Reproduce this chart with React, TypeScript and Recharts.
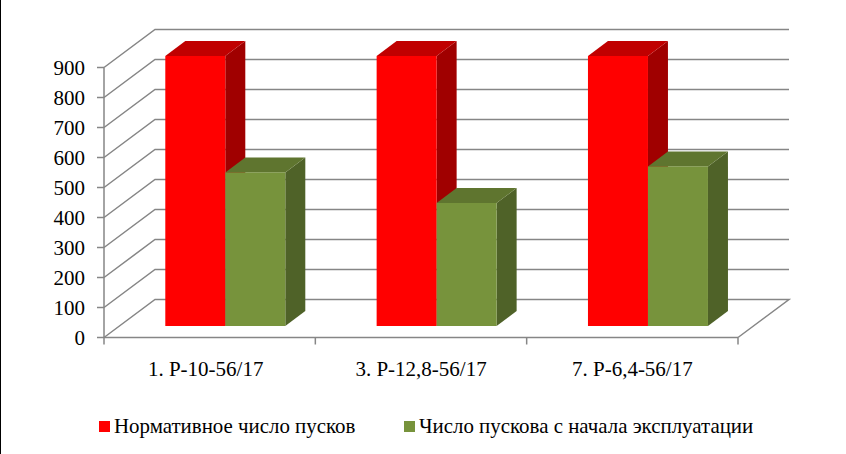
import { Bar, BarChart, CartesianGrid, Legend, XAxis, YAxis } from "recharts";

const CATEGORIES = ["1. Р-10-56/17", "3. Р-12,8-56/17", "7. Р-6,4-56/17"];
const NORM_STARTS = [900, 900, 900];
const ACTUAL_STARTS = [512, 410, 532];
const Y_TICKS = [0, 100, 200, 300, 400, 500, 600, 700, 800, 900];

const NORM_NAME = "Нормативное число пусков";
const ACTUAL_NAME = "Число пускова с начала эксплуатации";

const rows = CATEGORIES.map((name, i) => ({
  name,
  norm: NORM_STARTS[i],
  actual: ACTUAL_STARTS[i],
}));

const FONT = "'Liberation Serif', serif";
const AXIS_GREY = "#868686";
const LEFT = 104;
const RIGHT = 738;
const TOP = 67.5;
const BOTTOM = 337.5;
const BAND = (RIGHT - LEFT) / CATEGORIES.length;

// 3d depth of the chart box, and how far the bars sit inside it
const WALL_DX = 51;
const WALL_DY = -38;
const BAR_DX = 15.3;
const BAR_DY = -11.5;
const BAR_DEPTH_X = 20;
const BAR_DEPTH_Y = -15;

function Box3D(props: any) {
  const { x, y, width, height, fill, topFill, sideFill } = props;
  const left = x + BAR_DX;
  const right = left + width;
  const top = y + BAR_DY;
  const bottom = top + height;
  const dx = BAR_DEPTH_X;
  const dy = BAR_DEPTH_Y;
  return (
    <g>
      <polygon
        points={`${right},${top} ${right + dx},${top + dy} ${right + dx},${bottom + dy} ${right},${bottom}`}
        fill={sideFill}
      />
      <polygon
        points={`${left},${top} ${left + dx},${top + dy} ${right + dx},${top + dy} ${right},${top}`}
        fill={topFill}
      />
      <rect x={left} y={top} width={width} height={height} fill={fill} />
    </g>
  );
}

function WallLine(props: any) {
  const { x1, x2, y1 } = props;
  const isFloor = Math.abs(y1 - BOTTOM) < 1;
  const backY = y1 + WALL_DY;
  const points = [
    `${x1},${y1}`,
    `${x1 + WALL_DX},${backY}`,
    `${x2 + WALL_DX},${backY}`,
  ];
  if (isFloor) points.push(`${x2},${y1}`);
  return (
    <polyline
      key={`wall-${y1}`}
      points={points.join(" ")}
      fill="none"
      stroke={AXIS_GREY}
      strokeWidth={1.5}
    />
  );
}

function CategoryTick(props: any) {
  const { x, index, payload } = props;
  const start = x - BAND / 2;
  return (
    <g>
      <line x1={start} y1={BOTTOM} x2={start} y2={BOTTOM + 7} stroke={AXIS_GREY} strokeWidth={1.5} />
      {index === CATEGORIES.length - 1 && (
        <line x1={start + BAND} y1={BOTTOM} x2={start + BAND} y2={BOTTOM + 7} stroke={AXIS_GREY} strokeWidth={1.5} />
      )}
      <text x={index === 0 ? x - 4 : x} y={BOTTOM + 38} textAnchor="middle" fontFamily={FONT} fontSize={21} fill="#000">
        {payload.value}
      </text>
    </g>
  );
}

function ChartLegend() {
  const item = (color: string, label: string, left: number) => (
    <div style={{ position: "absolute", left, top: 0, display: "flex", alignItems: "center", whiteSpace: "nowrap" }}>
      <span style={{ width: 11, height: 11, background: color, marginRight: 4 }} />
      <span>{label}</span>
    </div>
  );
  return (
    <div style={{ position: "relative", height: 24, fontFamily: FONT, fontSize: 20.9, color: "#000" }}>
      {item("#ff0000", NORM_NAME, 99)}
      {item("#77933c", ACTUAL_NAME, 404)}
    </div>
  );
}

export default function App() {
  return (
    <div
      style={{
        position: "absolute",
        left: 0,
        top: 0,
        width: 846,
        height: 454,
        background: "#fff",
        overflow: "hidden",
      }}
    >
      <div style={{ position: "absolute", left: 0, top: 0, width: 1.4, height: 454, background: "#000" }} />
      <BarChart
        width={846}
        height={454}
        data={rows}
        barSize={60}
        barGap={0}
        margin={{ top: TOP, right: 846 - RIGHT, bottom: 0, left: 0 }}
      >
        <CartesianGrid vertical={false} horizontal={WallLine} horizontalValues={Y_TICKS} />
        <XAxis
          dataKey="name"
          height={92.5}
          interval={0}
          axisLine={{ stroke: AXIS_GREY, strokeWidth: 1.5 }}
          tickLine={false}
          tick={CategoryTick}
        />
        <YAxis
          width={LEFT}
          domain={[0, 900]}
          ticks={Y_TICKS}
          interval={0}
          tickSize={7}
          tickMargin={12}
          axisLine={{ stroke: AXIS_GREY, strokeWidth: 1.5 }}
          tickLine={{ stroke: AXIS_GREY, strokeWidth: 1.5 }}
          tick={{ fontFamily: FONT, fontSize: 21, fill: "#000" }}
        />
        <Legend
          verticalAlign="bottom"
          content={ChartLegend}
          wrapperStyle={{ left: 0, width: 846, bottom: 16, height: 24 }}
        />
        <Bar
          dataKey="norm"
          name={NORM_NAME}
          fill="#ff0000"
          isAnimationActive={false}
          shape={(p: any) => <Box3D {...p} fill="#ff0000" topFill="#c00000" sideFill="#a00000" />}
        />
        <Bar
          dataKey="actual"
          name={ACTUAL_NAME}
          fill="#77933c"
          isAnimationActive={false}
          shape={(p: any) => <Box3D {...p} fill="#77933c" topFill="#5f752f" sideFill="#4f6228" />}
        />
      </BarChart>
    </div>
  );
}
